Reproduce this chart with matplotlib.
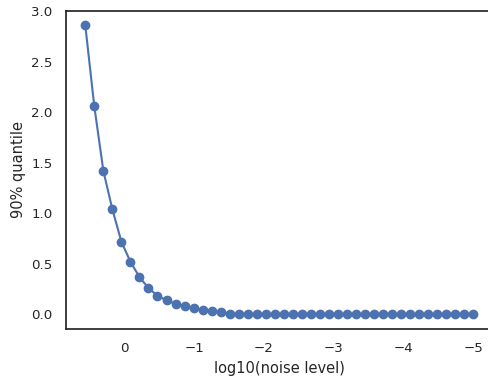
import matplotlib
matplotlib.use("Agg")
import matplotlib.pyplot as plt
import seaborn as sns

# log10 of the noise levels (x) and the 90% quantile (y)
log_noise = [0.56, 0.431, 0.301, 0.172, 0.043, -0.087, -0.216, -0.345, -0.474, -0.604,
             -0.733, -0.862, -0.992, -1.121, -1.250, -1.380, -1.509, -1.638, -1.767, -1.897,
             -2.026, -2.155, -2.285, -2.414, -2.543, -2.673, -2.802, -2.931, -3.060, -3.190,
             -3.319, -3.448, -3.578, -3.707, -3.836, -3.966, -4.095, -4.224, -4.353, -4.483,
             -4.612, -4.741, -4.871, -5.000]
quantile90 = [2.86, 2.06, 1.42, 1.04, 0.72, 0.52, 0.37, 0.26, 0.185, 0.139,
              0.106, 0.079, 0.059, 0.046, 0.033, 0.02, 0.007, 0.0, 0.0, 0.0,
              0.0, 0.0, 0.0, 0.0, 0.0, 0.0, 0.0, 0.0, 0.0, 0.0,
              0.0, 0.0, 0.0, 0.0, 0.0, 0.0, 0.0, 0.0, 0.0, 0.0,
              0.0, 0.0, 0.0, 0.0]

sns.set_theme(style="white", font_scale=0.88)

fig = plt.figure(figsize=(4.88, 3.78), dpi=100)
# the original picture is cropped on the right, so the axes run past the edge
ax = fig.add_axes([0.135, 0.13, 0.875, 0.841])
ax.plot(log_noise, quantile90, marker="o", markersize=6, color="#4C72B0")
ax.invert_xaxis()
ax.set_xlabel("log10(noise level)")
ax.set_ylabel("90% quantile")
ax.set_yticks([0.0, 0.5, 1.0, 1.5, 2.0, 2.5, 3.0])

fig.savefig("out.png", dpi=100)
